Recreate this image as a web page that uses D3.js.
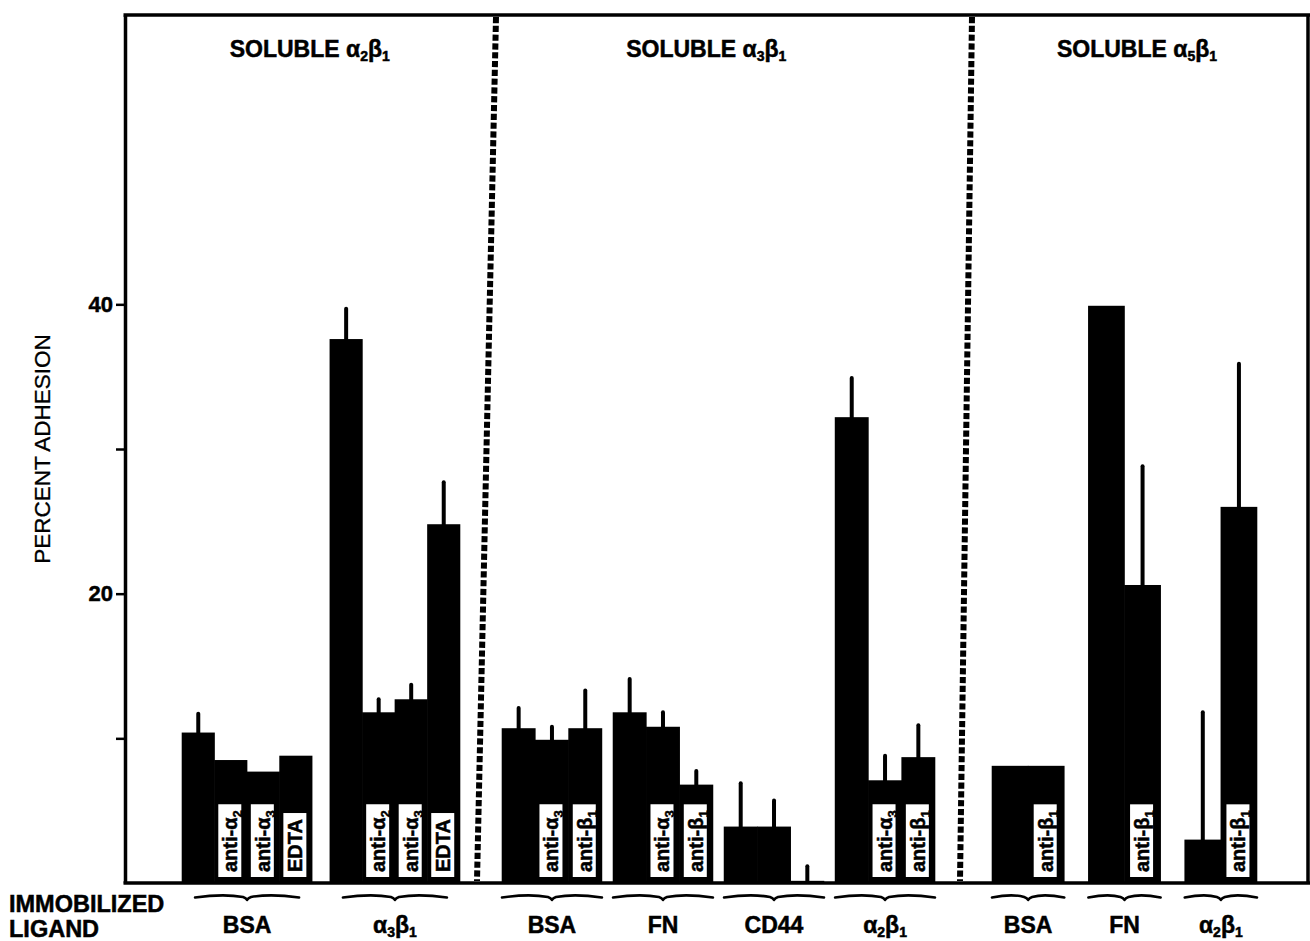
<!DOCTYPE html>
<html>
<head>
<meta charset="utf-8">
<script src="https://cdn.jsdelivr.net/npm/d3@7"></script>
<style>
  html, body { margin: 0; padding: 0; background: #fff; }
  svg { display: block; }
  text { font-family: "Liberation Sans", Arial, Helvetica, sans-serif; fill: #000; }
  text.heavy { font-weight: bold; stroke: #000; stroke-width: 0.5px; }
</style>
</head>
<body>
<svg id="chart" width="1310" height="941"></svg>
<script>
// ---- data -------------------------------------------------------------
// "_x" marks a subscript character in any label.
const panelTitles = ["SOLUBLE α_2β_1", "SOLUBLE α_3β_1", "SOLUBLE α_5β_1"];
const groupPanel  = [0, 0, 1, 1, 1, 1, 2, 2, 2];
const groupLigand = ["BSA", "α_3β_1", "BSA", "FN", "CD44", "α_2β_1", "BSA", "FN", "α_2β_1"];
const barTreatments = [
  ["", "anti-α_2", "anti-α_3", "EDTA"],
  ["", "anti-α_2", "anti-α_3", "EDTA"],
  ["", "anti-α_3", "anti-β_1"],
  ["", "anti-α_3", "anti-β_1"],
  ["", "", ""],
  ["", "anti-α_3", "anti-β_1"],
  ["", "anti-β_1"],
  ["", "anti-β_1"],
  ["", "anti-β_1"]
];
const adhesion = [
  [10.4, 8.5, 7.7, 8.8],
  [37.6, 11.8, 12.7, 24.8],
  [10.7, 9.9, 10.7],
  [11.8, 10.8, 6.8],
  [3.9, 3.9, 0.15],
  [32.2, 7.1, 8.7],
  [8.1, 8.1],
  [39.9, 20.6],
  [3.0, 26.0]
];
const errorSD = [
  [1.3, 0, 0, 0],
  [2.1, 0.9, 1.0, 2.9],
  [1.4, 0.9, 2.6],
  [2.3, 1.0, 0.95],
  [3.0, 1.8, 1.0],
  [2.7, 1.7, 2.2],
  [0, 0],
  [0, 8.2],
  [8.8, 9.9]
];
const yTicks = [10, 20, 30, 40];
const yTickLabels = ["", "20", "", "40"];
const yLabel = "PERCENT ADHESION";
const xLabelLines = ["IMMOBILIZED", "LIGAND"];

// ---- layout -----------------------------------------------------------
const svg = d3.select("#chart");
const FONT = "\"Liberation Sans\", Arial, Helvetica, sans-serif";
const plot = { left: 125, right: 1308, top: 15, bottom: 883 };

const y = d3.scaleLinear().domain([0, 60]).range([plot.bottom, plot.top]);

// horizontal extent of the groups in each panel, and the gap between groups
const panelSpan = [[182, 460], [502, 935], [992, 1257]];
const panelGap = [0.12, 0.1, 0.25];
// dotted separators between panels (top x, bottom x)
const separators = [[496, 477], [972, 960]];
const titleShift = [4, -20, 0];

const groupScales = panelSpan.map((span, p) => {
  const ids = d3.range(groupPanel.length).filter(g => groupPanel[g] === p);
  return d3.scaleBand().domain(ids).range(span).paddingInner(panelGap[p]).paddingOuter(0);
});

// write a label with "_x" subscripts as tspans
function rich(textSel, str, subSize, subDy) {
  const parts = str.split(/_(.)/);
  let shifted = false;
  parts.forEach((part, i) => {
    if (!part) return;
    const t = textSel.append("tspan").text(part);
    if (i % 2 === 1) {
      t.attr("font-size", subSize).attr("dy", subDy);
      shifted = true;
    } else if (shifted) {
      t.attr("dy", -subDy);
      shifted = false;
    }
  });
}

// ---- bars -------------------------------------------------------------
const bars = [];
adhesion.forEach((vals, g) => {
  const gs = groupScales[groupPanel[g]];
  const inner = d3.scaleBand().domain(d3.range(vals.length))
    .range([gs(g), gs(g) + gs.bandwidth()]).padding(0);
  vals.forEach((v, i) => bars.push({
    g, i, v, sd: errorSD[g][i], label: barTreatments[g][i],
    x0: inner(i), w: inner.bandwidth()
  }));
});

const barLayer = svg.append("g");
barLayer.selectAll("rect.bar").data(bars).join("rect")
  .attr("class", "bar")
  .attr("x", d => d.x0 - 0.3)
  .attr("width", d => d.w + 0.6)
  .attr("y", d => y(d.v))
  .attr("height", d => y(0) - y(d.v))
  .attr("fill", "#000");

// error bars (upper arm only)
barLayer.selectAll("line.err").data(bars.filter(d => d.sd > 0)).join("line")
  .attr("class", "err")
  .attr("x1", d => d.x0 + d.w / 2).attr("x2", d => d.x0 + d.w / 2)
  .attr("y1", d => y(d.v) + 1).attr("y2", d => y(d.v + d.sd))
  .attr("stroke", "#000").attr("stroke-width", 4).attr("stroke-linecap", "round");

// treatment labels in white boxes, reading upward
const tagged = bars.filter(d => d.label);
const tags = barLayer.selectAll("g.tag").data(tagged).join("g").attr("class", "tag");
tags.each(function (d) {
  const g = d3.select(this);
  const cx = d.x0 + d.w / 2 - 1;
  const base = y(0) - 6;
  const box = g.append("rect").attr("fill", "#fff");
  const t = g.append("text").attr("class", "heavy")
    .attr("transform", `translate(${cx + 7.5},${base - 5}) rotate(-90)`)
    .attr("font-size", 20);
  rich(t, d.label, 13, 5);
  const len = t.node().getComputedTextLength();
  box.attr("x", cx - 11.5).attr("width", 23)
    .attr("y", base - len - 11).attr("height", len + 11);
});

// ---- axes and frame ---------------------------------------------------
const axis = svg.append("g").attr("transform", `translate(${plot.left},0)`)
  .call(d3.axisLeft(y).tickValues(yTicks)
    .tickFormat((d, i) => yTickLabels[i]).tickSize(9).tickSizeOuter(0).tickPadding(3));
axis.select(".domain").attr("stroke-width", 3.5);
axis.selectAll(".tick line").attr("stroke-width", 2.5);
axis.selectAll(".tick text").attr("class", "heavy").attr("font-family", FONT)
  .attr("font-size", 22).attr("fill", "#000");

const frame = svg.append("g").attr("stroke", "#000").attr("fill", "none");
frame.append("line").attr("x1", plot.left - 1.5).attr("x2", 1310)
  .attr("y1", y(60)).attr("y2", y(60)).attr("stroke-width", 3.5);
frame.append("line").attr("x1", plot.right).attr("x2", plot.right)
  .attr("y1", y(60)).attr("y2", y(0)).attr("stroke-width", 3.5);
frame.append("line").attr("x1", plot.left - 1.5).attr("x2", 1310)
  .attr("y1", y(0)).attr("y2", y(0)).attr("stroke-width", 3.5);

// dotted separators between the soluble-integrin panels
frame.selectAll("line.sep").data(separators).join("line")
  .attr("class", "sep")
  .attr("x1", d => d[0]).attr("y1", y(60) + 2)
  .attr("x2", d => d[1]).attr("y2", y(0) - 2)
  .attr("stroke-width", 6).attr("stroke-dasharray", "6.2,2.6");

// panel titles
const panelEdges = [plot.left, ...separators.map(s => (s[0] + s[1]) / 2), plot.right];
panelTitles.forEach((title, p) => {
  const t = svg.append("text").attr("class", "heavy")
    .attr("x", (panelEdges[p] + panelEdges[p + 1]) / 2 + titleShift[p])
    .attr("y", 57).attr("text-anchor", "middle")
    .attr("font-size", 23);
  rich(t, title, 14, 4);
});

// y-axis title
svg.append("text")
  .attr("transform", `translate(50,${y(30)}) rotate(-90)`)
  .attr("text-anchor", "middle").attr("font-size", 22.5)
  .attr("stroke", "#000").attr("stroke-width", 0.3)
  .text(yLabel);

// ---- ligand braces and names -----------------------------------------
groupLigand.forEach((name, g) => {
  const gs = groupScales[groupPanel[g]];
  const cx = gs(g) + gs.bandwidth() / 2;
  const half = Math.min(gs.bandwidth(), 104) / 2;
  const by = 897;
  const path = d3.path();
  path.moveTo(cx - half, by + 0.5);
  path.bezierCurveTo(cx - half * 0.65, by - 2, cx - half * 0.3, by - 2, cx - 4, by);
  path.quadraticCurveTo(cx - 1, by + 1, cx, by + 3);
  path.quadraticCurveTo(cx + 1, by + 1, cx + 4, by);
  path.bezierCurveTo(cx + half * 0.3, by - 2, cx + half * 0.65, by - 2, cx + half, by + 0.5);
  svg.append("path").attr("d", path.toString())
    .attr("fill", "none").attr("stroke", "#000").attr("stroke-width", 2.6)
    .attr("stroke-linecap", "round").attr("stroke-linejoin", "round");

  const t = svg.append("text").attr("class", "heavy").attr("x", cx).attr("y", 933)
    .attr("text-anchor", "middle").attr("font-size", 23);
  rich(t, name, 14, 4);
});

svg.append("text").attr("class", "heavy").attr("x", 9).attr("y", 912)
  .attr("font-size", 23.5).text(xLabelLines[0]);
svg.append("text").attr("class", "heavy").attr("x", 9).attr("y", 937)
  .attr("font-size", 23.5).text(xLabelLines[1]);
</script>
</body>
</html>
